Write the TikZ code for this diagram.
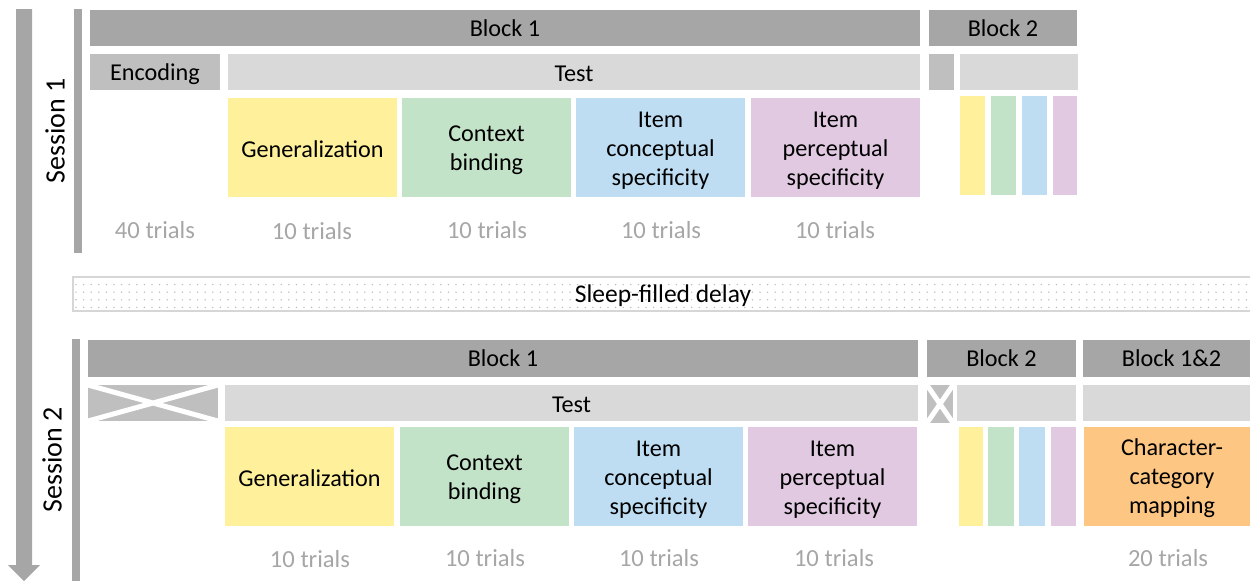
\documentclass[tikz,border=0pt]{standalone}
\usepackage{fontspec}
\setmainfont{Carlito}
\usetikzlibrary{patterns.meta}

\definecolor{bardark}{HTML}{A6A6A6}
\definecolor{barmid}{HTML}{BFBFBF}
\definecolor{barlight}{HTML}{D9D9D9}
\definecolor{cyellow}{HTML}{FFF09B}
\definecolor{cgreen}{HTML}{C3E3C9}
\definecolor{cblue}{HTML}{BEDDF2}
\definecolor{cpurple}{HTML}{E1CAE1}
\definecolor{corange}{HTML}{FDC683}
\definecolor{trialgray}{HTML}{A6A6A6}
\definecolor{delayedge}{HTML}{D6D6D6}
\definecolor{delaydot}{HTML}{BDBDBD}

\newcommand\lblfont{\fontsize{24.2}{29}\selectfont}
\newcommand\trialfont{\fontsize{24.6}{29}\selectfont}
\newcommand\delayfont{\fontsize{25.5}{29}\selectfont}
\newcommand\sessfont{\fontsize{28}{32}\selectfont}

% \cell[text drop]{name}{x1}{y1}{x2}{y2}{fill style}{text}
\newcommand\cell[8][0pt]{%
  \node[cellbox,#7,minimum width={#5-#3},minimum height={#6-#4}]
    (#2) at ({(#3+#5)/2},{(#4+#6)/2}) {};
  \node[celltext] (#2-t) at ([yshift=-#1]#2.center) {#8};}

\tikzset{
  cellbox/.style={inner sep=0pt, outer sep=0pt, draw=none},
  celltext/.style={inner sep=0pt, align=center, font=\lblfont, text=black},
  blockbar/.style={fill=bardark},
  encbar/.style={fill=barmid},
  testbar/.style={fill=barlight},
  gen/.style={fill=cyellow},
  ctx/.style={fill=cgreen},
  concept/.style={fill=cblue},
  percept/.style={fill=cpurple},
  mapping/.style={fill=corange},
  trials/.style={font=\trialfont, text=trialgray, inner sep=0pt},
  session/.style={font=\sessfont, rotate=90, inner sep=0pt},
  crossout/.style={white, line width=5pt},
}

\begin{document}
\begin{tikzpicture}[x=1pt,y=-1pt]
\useasboundingbox (0,0) rectangle (1250,581);

% time axis
\fill[bardark] (16,9) -- (32,9) -- (32,565) -- (40,565) -- (24,581) -- (8,565) -- (16,565) -- cycle;

% ---------------- Session 1 ----------------
\fill[bardark] (74,9) rectangle (82,253);
\node[session] (s1) at (55,131) {Session 1};

\cell{s1b1}{90}{10}{920}{46}{blockbar}{Block 1}
\cell{s1b2}{929}{10}{1077}{46}{blockbar}{Block 2}

\cell[2.5pt]{s1enc}{90}{54}{220}{90}{encbar}{Encoding}
\cell[1.5pt]{s1test}{228}{54}{920}{90}{testbar}{Test}
\cell{s1enc2}{929}{54}{954}{90}{encbar}{}
\cell{s1test2}{960}{54}{1078}{90}{testbar}{}

\cell[2pt]{s1gen}{228}{98}{397}{197}{gen}{Generalization}
\cell[3pt]{s1ctx}{402}{98}{571}{197}{ctx}{Context\\binding}
\cell[3pt]{s1con}{576}{98}{745}{197}{concept}{Item\\conceptual\\specificity}
\cell[3pt]{s1per}{751}{98}{920}{197}{percept}{Item\\perceptual\\specificity}

\cell{s1genb}{960}{96}{985}{195}{gen}{}
\cell{s1ctxb}{991}{96}{1016}{195}{ctx}{}
\cell{s1conb}{1022}{96}{1047}{195}{concept}{}
\cell{s1perb}{1053}{96}{1077}{195}{percept}{}

\node[trials] (t1a) at (155,230) {40 trials};
\node[trials] (t1b) at (312,231) {10 trials};
\node[trials] (t1c) at (487,230) {10 trials};
\node[trials] (t1d) at (661,230) {10 trials};
\node[trials] (t1e) at (835,230) {10 trials};

% ---------------- delay ----------------
\draw[delayedge, line width=2pt, pattern={Dots[distance=7.6pt, radius=0.8pt]}, pattern color=delaydot]
  (73,277) rectangle (1262,311);
\node[font=\delayfont, inner sep=0pt] (delay) at (663,296) {Sleep-filled delay};

% ---------------- Session 2 ----------------
\fill[bardark] (72,339) rectangle (80,581);
\node[session] (s2) at (52,460) {Session 2};

\cell{s2b1}{88}{340}{918}{377}{blockbar}{Block 1}
\cell{s2b2}{927}{340}{1076}{377}{blockbar}{Block 2}
\cell{s2b3}{1083}{340}{1260}{377}{blockbar}{Block 1\&2}

\cell{s2enc}{88}{385}{218}{421}{encbar}{}
\cell[1.5pt]{s2test}{225}{385}{918}{421}{testbar}{Test}
\cell{s2enc2}{927}{385}{953}{423}{encbar}{}
\cell{s2test2}{957}{385}{1076}{421}{testbar}{}
\cell{s2test3}{1083}{385}{1260}{421}{testbar}{}

% skipped encoding phases
\begin{scope}
  \clip (s2enc.north west) rectangle (s2enc.south east);
  \draw[crossout] (s2enc.north west) -- (s2enc.south east)
                  (s2enc.north east) -- (s2enc.south west);
\end{scope}
\begin{scope}
  \clip (s2enc2.north west) rectangle (s2enc2.south east);
  \draw[crossout] (s2enc2.north west) -- (s2enc2.south east)
                  (s2enc2.north east) -- (s2enc2.south west);
\end{scope}

\cell[2pt]{s2gen}{225}{427}{394}{526}{gen}{Generalization}
\cell[3pt]{s2ctx}{400}{427}{569}{526}{ctx}{Context\\binding}
\cell[3pt]{s2con}{574}{427}{743}{526}{concept}{Item\\conceptual\\specificity}
\cell[3pt]{s2per}{748}{427}{917}{526}{percept}{Item\\perceptual\\specificity}

\cell{s2genb}{959}{427}{983}{526}{gen}{}
\cell{s2ctxb}{988}{427}{1014}{526}{ctx}{}
\cell{s2conb}{1019}{427}{1045}{526}{concept}{}
\cell{s2perb}{1051}{427}{1076}{526}{percept}{}

\cell[2pt]{s2map}{1084}{427}{1260}{526}{mapping}{Character-\\category\\mapping}

\node[trials] (t2b) at (310,559) {10 trials};
\node[trials] (t2c) at (485,558) {10 trials};
\node[trials] (t2d) at (659,558) {10 trials};
\node[trials] (t2e) at (834,558) {10 trials};
\node[trials] (t2f) at (1168,558) {20 trials};
\end{tikzpicture}
\end{document}
